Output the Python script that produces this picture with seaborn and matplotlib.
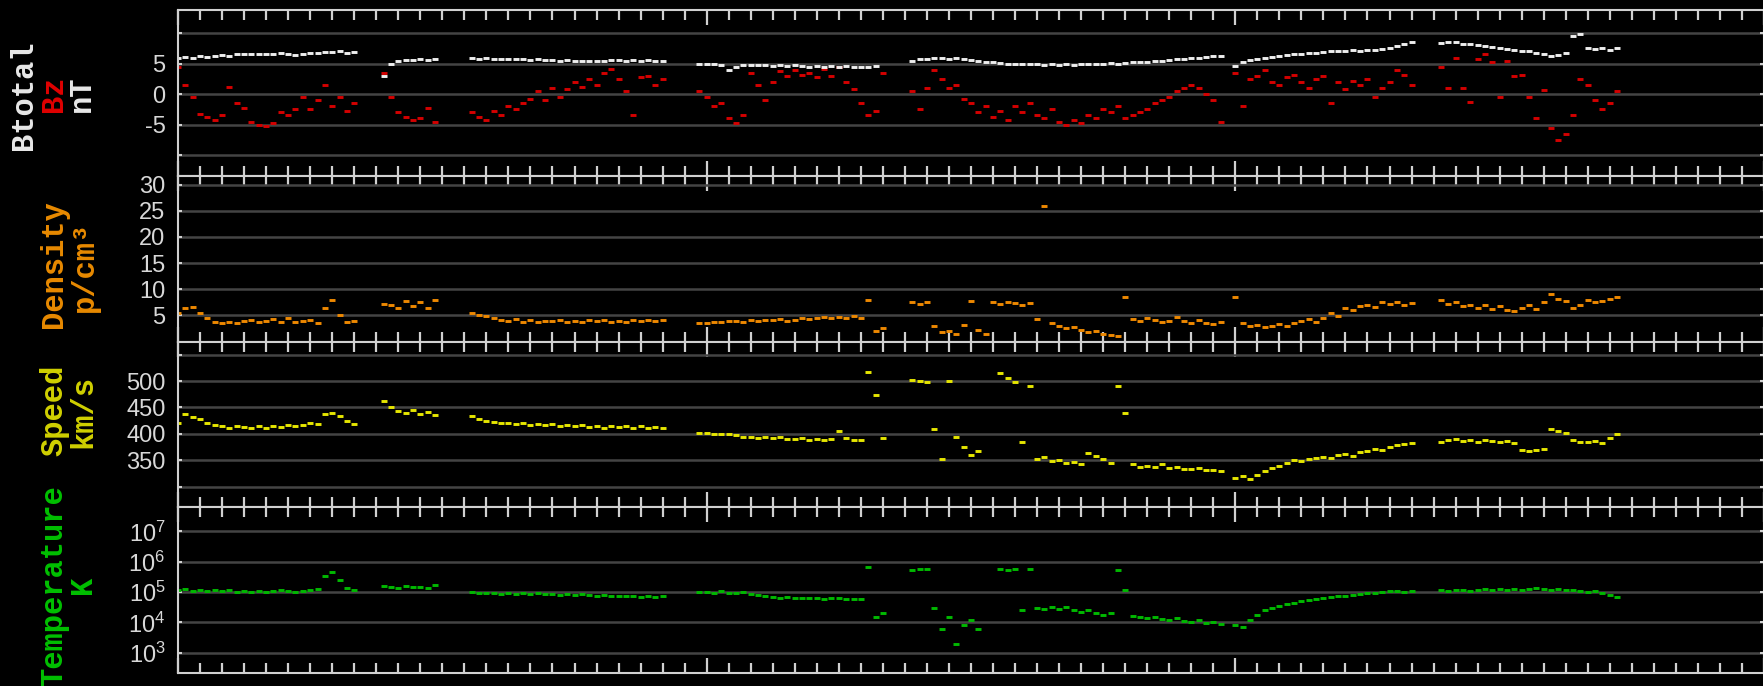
import numpy as np
import pandas as pd
import matplotlib
matplotlib.use("Agg")
import matplotlib.pyplot as plt
import matplotlib.ticker as plticker
import seaborn as sns

nan = float("nan")

# solar wind readings, one value every 20 minutes (3 per row = 1 hour)
btotal = [
    6.0, 6.1, 6.0,  6.2, 6.1, 6.3,  6.4, 6.3, 6.5,  6.6, 6.5, 6.6,
    6.5, 6.6, 6.7,  6.5, 6.4, 6.6,  6.8, 6.7, 6.9,  6.9, 7.0, 6.8,
    6.9, nan, nan,  nan, 3.0, 5.0,  5.5, 5.6, 5.6,  5.7, 5.6, 5.7,
    nan, nan, nan,  nan, 5.9, 5.8,  5.9, 5.8, 5.8,  5.7, 5.8, 5.7,
    5.6, 5.7, 5.6,  5.6, 5.5, 5.6,  5.5, 5.4, 5.5,  5.5, 5.5, 5.6,
    5.6, 5.5, 5.6,  5.5, 5.6, 5.5,  5.4, nan, nan,  nan, nan, 5.0,
    4.9, 5.0, 4.8,  4.0, 4.5, 4.8,  4.7, 4.8, 4.7,  4.6, 4.7, 4.6,
    4.7, 4.6, 4.5,  4.6, 4.5, 4.6,  4.5, 4.6, 4.5,  4.4, 4.5, 4.6,
    nan, nan, nan,  nan, 5.5, 5.7,  5.8, 5.9, 5.9,  5.8, 5.9, 5.8,
    5.6, 5.5, 5.3,  5.2, 5.1, 5.0,  5.0, 4.9, 5.0,  4.9, 4.8, 4.9,
    4.8, 4.9, 4.8,  4.9, 5.0, 4.9,  5.0, 5.1, 5.0,  5.1, 5.2, 5.3,
    5.3, 5.4, 5.5,  5.6, 5.7, 5.8,  5.9, 6.0, 6.1,  6.2, 6.3, nan,
    4.6, 5.2, 5.6,  5.8, 6.0, 6.1,  6.2, 6.4, 6.5,  6.6, 6.7, 6.8,
    6.9, 7.0, 7.0,  7.1, 7.2, 7.1,  7.2, 7.3, 7.4,  7.6, 7.9, 8.3,
    8.5, nan, nan,  nan, 8.4, 8.6,  8.5, 8.3, 8.2,  8.0, 7.9, 7.7,
    7.5, 7.4, 7.3,  7.1, 7.0, 6.7,  6.5, 6.3, 6.4,  6.8, 9.5, 9.8,
    7.6, 7.4, 7.5,  7.3, 7.6, nan,
]
bz = [
    4.5, 1.5, -0.5,  -3.2, -3.8, -4.2,  -3.5, 1.2, -1.5,  -2.2, -4.5, -5.0,
    -5.3, -4.8, -3.0,  -3.5, -2.5, -0.5,  -2.5, -1.0, 1.5,  -2.0, -0.5, -2.8,
    -1.5, nan, nan,  nan, 3.5, -0.5,  -3.0, -3.8, -4.2,  -4.0, -2.2, -4.5,
    nan, nan, nan,  nan, -3.0, -3.8,  -4.2, -2.8, -3.5,  -2.0, -2.5, -1.5,
    -0.8, 0.5, -1.0,  1.0, -0.5, 0.8,  2.0, 1.2, 2.5,  1.5, 3.5, 4.2,
    2.5, 0.5, -3.5,  2.8, 3.0, 1.5,  2.5, nan, nan,  nan, nan, 0.5,
    -0.5, -2.0, -1.5,  -4.0, -4.8, -3.5,  3.5, 1.5, -1.0,  2.0, 3.8, 3.0,
    4.0, 3.2, 3.5,  2.8, 4.2, 3.0,  4.4, 2.0, 0.8,  -1.5, -3.5, -2.8,
    3.5, nan, nan,  nan, 0.5, -2.5,  1.0, 4.0, 2.5,  1.0, 1.5, -0.8,
    -1.5, -3.0, -2.0,  -3.8, -2.8, -4.2,  -2.0, -3.0, -1.5,  -3.5, -4.0, -2.5,
    -4.5, -5.0, -4.2,  -4.8, -3.5, -4.0,  -2.5, -3.0, -2.0,  -4.0, -3.5, -3.0,
    -2.5, -1.5, -1.0,  -0.5, 0.5, 1.0,  1.5, 1.0, 0.0,  -1.0, -4.5, nan,
    3.5, -2.0, 2.5,  3.0, 4.0, 2.0,  1.5, 2.8, 3.2,  2.0, 1.0, 2.5,
    3.0, -1.5, 2.0,  0.8, 2.2, 1.5,  2.5, -0.5, 1.0,  2.0, 4.0, 3.2,
    1.5, nan, nan,  nan, 4.5, 1.0,  6.0, 1.0, -1.3,  5.8, 6.5, 5.2,
    -0.5, 5.5, 3.0,  3.2, -0.5, -4.0,  0.7, -5.5, -7.5,  -6.5, -3.5, 2.5,
    1.5, -1.0, -2.5,  -1.5, 0.5, nan,
]
density = [
    5.5, 6.5, 6.6,  5.5, 4.5, 3.8,  3.6, 3.8, 3.5,  3.9, 4.2, 3.7,
    4.0, 4.3, 3.8,  4.5, 3.8, 4.0,  4.2, 3.6, 6.5,  8.0, 5.0, 3.8,
    4.0, nan, nan,  nan, 7.2, 7.0,  6.5, 7.8, 6.8,  7.5, 6.5, 7.9,
    nan, nan, nan,  nan, 5.4, 5.0,  4.8, 4.5, 4.2,  4.0, 4.3, 3.8,
    4.2, 3.7, 4.0,  3.9, 4.1, 3.7,  4.0, 3.8, 4.2,  3.9, 4.1, 3.8,
    4.0, 3.7, 4.1,  3.9, 4.2, 4.0,  4.1, nan, nan,  nan, nan, 3.5,
    3.6, 3.8, 3.7,  3.9, 4.0, 3.8,  4.1, 4.0, 4.2,  4.1, 4.3, 4.0,
    4.2, 4.5, 4.3,  4.4, 4.6, 4.5,  4.7, 4.5, 4.8,  4.5, 8.0, 2.0,
    2.5, nan, nan,  nan, 7.5, 7.2,  7.6, 3.0, 1.8,  2.0, 1.5, 3.2,
    7.8, 2.2, 1.5,  7.5, 7.2, 7.6,  7.4, 7.0, 7.3,  4.3, 26.0, 3.5,
    3.0, 2.5, 2.8,  2.2, 1.8, 2.0,  1.5, 1.2, 1.1,  8.5, 4.3, 4.0,
    4.5, 4.2, 3.8,  4.0, 4.6, 3.9,  3.5, 4.2, 3.6,  3.3, 3.8, nan,
    8.5, 3.5, 3.0,  3.2, 2.8, 3.0,  3.3, 3.0, 3.5,  4.0, 4.3, 3.8,
    4.5, 5.5, 4.8,  6.5, 6.0, 6.8,  7.0, 6.6, 7.5,  7.2, 7.5, 7.0,
    7.3, nan, nan,  nan, 8.0, 7.2,  7.5, 6.8, 7.0,  6.5, 7.0, 6.2,
    6.8, 6.0, 5.8,  6.5, 7.0, 6.2,  7.5, 9.0, 8.2,  7.8, 6.5, 7.0,
    8.0, 7.5, 7.8,  8.2, 8.5, nan,
]
speed = [
    420, 438, 432,  428, 420, 416,  414, 412, 415,  413, 411, 414,
    412, 415, 413,  416, 414, 417,  420, 418, 438,  440, 433, 425,
    418, nan, nan,  nan, 463, 450,  443, 440, 445,  438, 442, 436,
    nan, nan, nan,  nan, 433, 428,  425, 422, 420,  421, 418, 420,
    417, 419, 416,  418, 415, 417,  414, 416, 413,  415, 412, 414,
    413, 415, 412,  414, 411, 413,  412, nan, nan,  nan, nan, 402,
    401, 400, 399,  400, 397, 395,  394, 393, 395,  392, 394, 391,
    390, 393, 389,  391, 388, 390,  405, 392, 389,  388, 518, 474,
    392, nan, nan,  nan, 503, 500,  499, 410, 352,  501, 395, 375,
    360, 368, nan,  nan, 515, 505,  498, 385, 490,  352, 356, 348,
    350, 345, 347,  343, 364, 358,  352, 345, 491,  440, 342, 338,
    340, 337, 342,  336, 338, 334,  333, 335, 331,  332, 330, nan,
    316, 320, 314,  322, 330, 335,  340, 345, 350,  348, 352, 355,
    357, 355, 360,  362, 358, 365,  368, 372, 370,  375, 378, 380,
    382, nan, nan,  nan, 385, 388,  390, 386, 388,  385, 389, 387,
    384, 386, 383,  369, 367, 370,  372, 410, 406,  402, 388, 385,
    384, 386, 383,  392, 400, nan,
]
temperature = [
    1.2e5, 1.3e5, 1.1e5,  1.2e5, 1.1e5, 1.2e5,  1.1e5, 1.2e5, 1.0e5,  1.1e5, 1.0e5, 1.1e5,
    1.0e5, 1.1e5, 1.2e5,  1.1e5, 1.0e5, 1.1e5,  1.2e5, 1.3e5, 3.5e5,  4.5e5, 2.5e5, 1.4e5,
    1.2e5, nan, nan,  nan, 1.6e5, 1.5e5,  1.4e5, 1.6e5, 1.5e5,  1.5e5, 1.4e5, 1.7e5,
    nan, nan, nan,  nan, 1.0e5, 9.5e4,  9.0e4, 9.5e4, 8.5e4,  9.0e4, 8.8e4, 9.2e4,
    8.5e4, 9.0e4, 8.8e4,  8.6e4, 8.2e4, 8.8e4,  8.0e4, 8.4e4, 7.8e4,  7.5e4, 7.8e4, 7.2e4,
    7.6e4, 7.2e4, 7.4e4,  7.0e4, 7.5e4, 7.1e4,  7.2e4, nan, nan,  nan, nan, 1.0e5,
    1.0e5, 9.5e4, 1.05e5,  9.5e4, 9.0e4, 9.8e4,  8.5e4, 8.0e4, 7.5e4,  7.0e4, 6.5e4, 6.8e4,
    6.5e4, 6.2e4, 6.6e4,  6.3e4, 6.0e4, 6.4e4,  6.2e4, 5.8e4, 6.1e4,  6.0e4, 6.5e5, 1.5e4,
    2.0e4, nan, nan,  nan, 5.5e5, 5.8e5,  5.6e5, 3.0e4, 6.0e3,  1.5e4, 2.0e3, 8.0e3,
    1.2e4, 6.0e3, nan,  nan, 5.6e5, 5.5e5,  5.8e5, 2.5e4, 5.6e5,  3.0e4, 2.8e4, 3.2e4,
    2.8e4, 3.2e4, 2.6e4,  2.2e4, 2.5e4, 2.0e4,  1.8e4, 2.0e4, 5.5e5,  1.2e5, 1.6e4, 1.5e4,
    1.4e4, 1.5e4, 1.3e4,  1.2e4, 1.4e4, 1.1e4,  1.0e4, 1.2e4, 9.5e3,  1.0e4, 9.0e3, nan,
    8.0e3, 7.0e3, 1.2e4,  1.8e4, 2.5e4, 3.0e4,  3.5e4, 4.0e4, 4.5e4,  5.0e4, 5.5e4, 6.0e4,
    6.5e4, 7.0e4, 7.2e4,  7.5e4, 8.0e4, 8.5e4,  9.0e4, 9.5e4, 1.0e5,  1.05e5, 1.1e5, 1.0e5,
    1.1e5, nan, nan,  nan, 1.2e5, 1.1e5,  1.15e5, 1.2e5, 1.1e5,  1.2e5, 1.25e5, 1.15e5,
    1.3e5, 1.2e5, 1.25e5,  1.2e5, 1.3e5, 1.4e5,  1.3e5, 1.2e5, 1.25e5,  1.15e5, 1.2e5, 1.1e5,
    1.0e5, 1.1e5, 9.0e4,  8.0e4, 7.0e4, nan,
]

mag_ticks = [-10, -5, 0, 5, 10]
mag_labels = ["", "-5", "0", "5", ""]
dens_ticks = [5, 10, 15, 20, 25, 30]
dens_labels = ["5", "10", "15", "20", "25", "30"]
speed_ticks = [300, 350, 400, 450, 500, 550]
speed_labels = ["", "350", "400", "450", "500", ""]
temp_ticks = [1e3, 1e4, 1e5, 1e6, 1e7]
temp_labels = [r"$\mathdefault{10^{%d}}$" % k for k in range(3, 8)]

df = pd.DataFrame({
    "hour": np.arange(len(btotal)) / 3.0,
    "btotal": btotal, "bz": bz, "density": density,
    "speed": speed, "temperature": temperature,
})

sns.set_style("dark", {"axes.facecolor": "black", "figure.facecolor": "black"})
plt.rcParams["font.family"] = ["Liberation Sans", "DejaVu Sans"]
plt.rcParams["mathtext.fontset"] = "custom"
plt.rcParams["mathtext.rm"] = "Liberation Sans"

FRAME = "#d0d0d0"
GRID = "#444444"

fig, axes = plt.subplots(4, 1, figsize=(17.63, 6.86), dpi=100, sharex=True)
fig.patch.set_facecolor("black")
fig.subplots_adjust(left=178/1763, right=1764/1763, top=1-10/686, bottom=1-673/686, hspace=0)

panels = [
    (["bz", "btotal"], ["#d40000", "#eeeeee"], (-13.4, 13.8), mag_ticks, mag_labels),
    (["density"], ["#ee8800"], (0, 31.7), dens_ticks, dens_labels),
    (["speed"], ["#e6e600"], (261, 575), speed_ticks, speed_labels),
    (["temperature"], ["#00b800"], (10**2.33, 10**7.8), temp_ticks, temp_labels),
]

for ax, (cols, colors, ylim, ticks, labels) in zip(axes, panels):
    ax.set_facecolor("black")
    for col, c in zip(cols, colors):
        # each 20-min reading drawn as a short dash so the trace reads as dotted
        sns.scatterplot(data=df, x="hour", y=col, ax=ax, color=c, marker="_",
                        s=22, linewidth=2.1, legend=False)
    if cols[0] == "temperature":
        ax.set_yscale("log")
        ax.yaxis.set_minor_locator(plticker.NullLocator())
    ax.set_ylim(*ylim)
    ax.set_xlim(0, 72)
    ax.set_yticks(ticks, labels)
    ax.set_xlabel("")
    ax.set_ylabel("")
    ax.xaxis.set_major_locator(plticker.MultipleLocator(24))
    ax.xaxis.set_minor_locator(plticker.MultipleLocator(1))
    ax.tick_params(axis="x", which="both", direction="in", top=True, bottom=True,
                   labelbottom=False, color=FRAME, width=1.6)
    ax.tick_params(axis="x", which="major", length=11)
    ax.tick_params(axis="x", which="minor", length=7)
    ax.tick_params(axis="y", which="major", direction="in", left=True, right=True,
                   length=3, width=1.5, color=FRAME, labelcolor="#d8d8d8",
                   labelsize=17, pad=9)
    ax.grid(False)
    ax.grid(axis="y", color=GRID, linewidth=1.8)
    ax.set_axisbelow(True)
    for sp in ax.spines.values():
        sp.set_visible(True)
        sp.set_color(FRAME)
        sp.set_linewidth(1.5)

label_font = dict(family="Liberation Mono", size=22, weight="semibold",
                  rotation=90, ha="center", va="center")
axis_titles = [
    ("Btotal", 24, 95, "#e8e8e8"),
    ("Bz", 54, 94, "#e00000"),
    ("nT", 82, 94, "#e8e8e8"),
    ("Density", 54, 264, "#e88a00"),
    ("p/cm³", 85, 266, "#e88a00"),
    ("Speed", 54, 410, "#d0d000"),
    ("km/s", 83, 412, "#d0d000"),
    ("Temperature", 54, 586, "#00c000"),
    ("K", 83, 585, "#00c000"),
]
for txt, x, y, c in axis_titles:
    fig.text(x / 1763, 1 - y / 686, txt, color=c, **label_font)

fig.savefig("out.png", dpi=100, facecolor="black")
